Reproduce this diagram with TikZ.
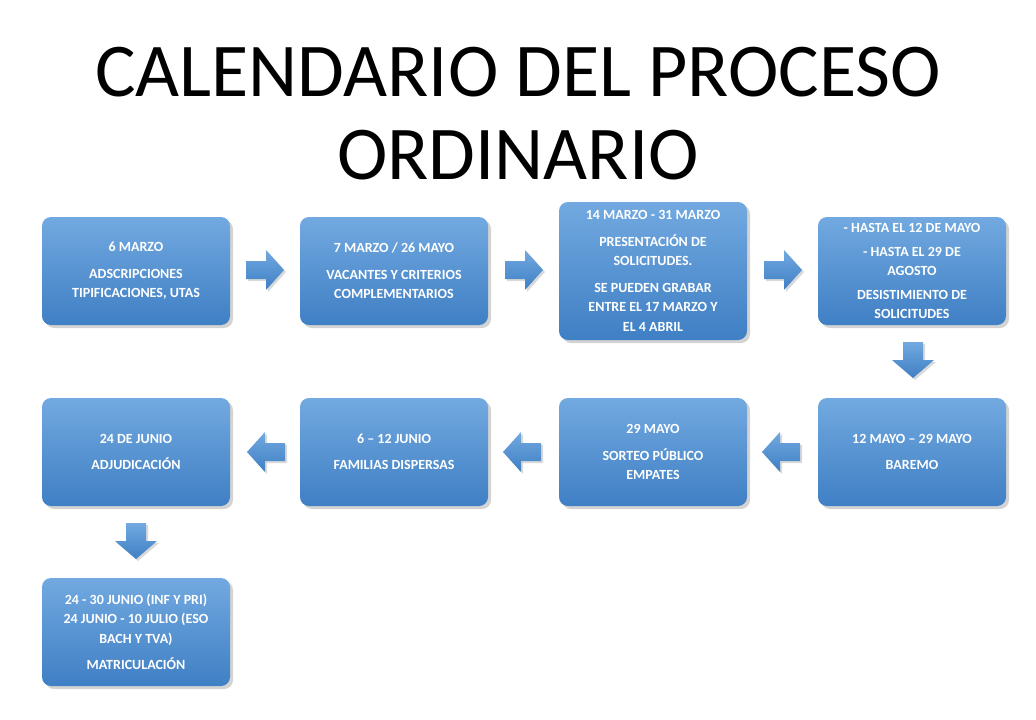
\documentclass[tikz,border=0pt]{standalone}
\usepackage{fontspec}
\setmainfont{Carlito}
\usetikzlibrary{shadows}
\definecolor{btop}{HTML}{72A9E0}
\definecolor{bbot}{HTML}{3F7FC4}
\tikzset{
  bx/.style={rounded corners=9pt, minimum width=188pt, minimum height=108pt,
    top color=btop, bottom color=bbot, draw=none, text=white,
    font=\bfseries\fontsize{14}{19.5}\selectfont, align=center, inner sep=2pt,
    drop shadow={shadow xshift=3pt, shadow yshift=-3pt, opacity=0.35, fill=gray}},
  ar/.style={top color=btop, bottom color=bbot, draw=none,
    drop shadow={shadow xshift=2pt, shadow yshift=-2pt, opacity=0.3, fill=gray}}
}
\newcommand{\rarr}[2]{\path[ar] (#1-18,#2-9) -- (#1+2,#2-9) -- (#1+2,#2-20) -- (#1+20,#2) -- (#1+2,#2+20) -- (#1+2,#2+9) -- (#1-18,#2+9) -- cycle;}
\newcommand{\larr}[2]{\path[ar] (#1+18,#2-9) -- (#1-2,#2-9) -- (#1-2,#2-20) -- (#1-20,#2) -- (#1-2,#2+20) -- (#1-2,#2+9) -- (#1+18,#2+9) -- cycle;}
\newcommand{\darr}[2]{\path[ar] (#1-10,#2-18) -- (#1+10,#2-18) -- (#1+10,#2) -- (#1+21,#2) -- (#1,#2+18) -- (#1-21,#2) -- (#1-10,#2) -- cycle;}
\begin{document}
\begin{tikzpicture}[x=1pt,y=-1pt]
\useasboundingbox (0,0) rectangle (1036,720);
\node (t1) at (518,72) {\fontsize{76}{80}\selectfont CALENDARIO DEL PROCESO};
\node (t2) at (518,155) {\fontsize{76}{80}\selectfont ORDINARIO};
\node[bx] (b1) at (136,271) {6 MARZO\\[7pt]ADSCRIPCIONES\\TIPIFICACIONES, UTAS};
\node[bx] (b2) at (394,271) {7 MARZO / 26 MAYO\\[7pt]VACANTES Y CRITERIOS\\COMPLEMENTARIOS};
\node[bx, minimum height=138pt] (b3) at (653,271) {14 MARZO - 31 MARZO\\[7pt]PRESENTACIÓN DE\\SOLICITUDES.\\[7pt]SE PUEDEN GRABAR\\ENTRE EL 17 MARZO Y\\EL 4 ABRIL};
\node[bx] (b4) at (912,271) {- HASTA EL 12 DE MAYO\\[4pt]- HASTA EL 29 DE\\AGOSTO\\[4pt]DESISTIMIENTO DE\\SOLICITUDES};
\node[bx] (b5) at (912,452) {12 MAYO – 29 MAYO\\[7pt]BAREMO};
\node[bx] (b6) at (653,452) {29 MAYO\\[7pt]SORTEO PÚBLICO\\EMPATES};
\node[bx] (b7) at (394,452) {6 – 12 JUNIO\\[7pt]FAMILIAS DISPERSAS};
\node[bx] (b8) at (136,452) {24 DE JUNIO\\[7pt]ADJUDICACIÓN};
\node[bx] (b9) at (136,632) {24 - 30 JUNIO (INF Y PRI)\\24 JUNIO - 10 JULIO (ESO\\BACH Y TVA)\\[7pt]MATRICULACIÓN};
\rarr{264}{270}
\rarr{523}{270}
\rarr{782}{270}
\darr{913}{360}
\larr{782}{452}
\larr{523}{452}
\larr{267}{452}
\darr{136}{541}
\end{tikzpicture}
\end{document}
